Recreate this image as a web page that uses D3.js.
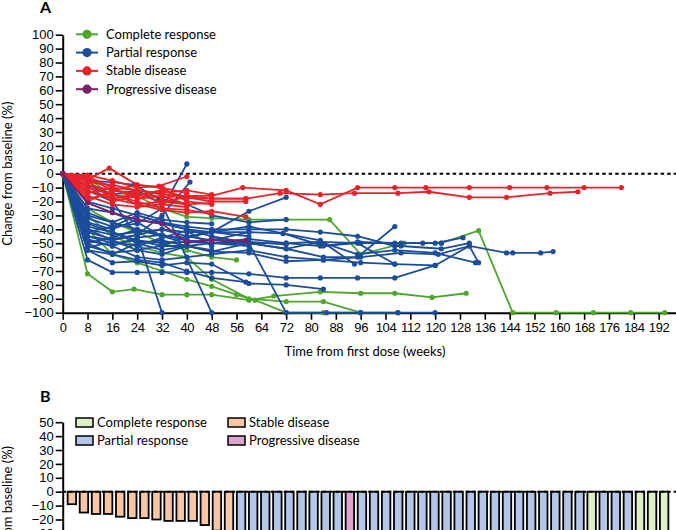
<!DOCTYPE html>
<html>
<head>
<meta charset="utf-8">
<script src="https://cdn.jsdelivr.net/npm/d3@7"></script>
<style>
  body { margin: 0; background: #fff; }
  svg { display: block; font-family: Lato, "Open Sans", sans-serif; }
</style>
</head>
<body>
<svg id="chart" width="676" height="530"></svg>
<script>
// panel A - one array of [week, % change] per patient, grouped by best response
const completeLines = [
  [[0,0],[8,-3],[16,-16],[23,-15],[32,-25],[40,-31],[48,-32],[60,-33],[72,-33],[86,-33],[96,-58],[110,-50],[122,-50],[134,-41],[145,-100],[159,-100],[171,-100],[183,-100],[194,-100]],
  [[0,0],[8,-72],[16,-85],[23,-83],[32,-87],[40,-87],[48,-87],[60,-91],[68,-88],[83,-85],[96,-86],[107,-86],[119,-89],[130,-86]],
  [[0,0],[8,-40],[16,-58],[24,-64],[32,-70],[40,-76],[48,-81],[56,-87],[62,-91],[72,-100],[84,-100],[96,-100]],
  [[0,0],[8,-30],[16,-45],[24,-52],[32,-57],[40,-60],[48,-76],[60,-90],[72,-92],[84,-92],[96,-100],[108,-100]],
  [[0,0],[8,-25],[16,-35],[24,-42],[32,-50],[40,-55],[48,-60],[56,-62]]
];
const partialLines = [
  [[0,0],[8,-32],[16,-38],[24,-36],[32,-25],[40,7]],
  [[0,0],[8,-40],[16,-48],[24,-44],[32,-30],[41,-6]],
  [[0,0],[8,-12],[16,-20],[24,-45],[32,-100]],
  [[0,0],[8,-8],[16,-15],[24,-12],[32,-22],[48,-100]],
  [[0,0],[8,-35],[16,-40],[24,-33],[32,-36],[40,-40],[48,-45],[60,-50],[72,-100],[85,-100],[96,-100],[108,-100],[120,-100]],
  [[0,0],[8,-30],[16,-35],[24,-40],[32,-45],[40,-46],[48,-42],[60,-27],[72,-17]],
  [[0,0],[8,-5],[16,-6],[23,-8],[31,-18],[40,-22],[48,-30],[60,-35],[72,-33]],
  [[0,0],[8,-62],[16,-71],[24,-71],[32,-71],[40,-71],[48,-71],[60,-72],[72,-75],[83,-75],[95,-75],[107,-75],[120,-66],[131,-52],[143,-57],[145,-57],[154,-57],[158,-56]],
  [[0,0],[8,-55],[16,-64],[24,-63],[32,-66],[40,-64],[48,-65],[60,-79],[72,-80],[84,-83]],
  [[0,0],[8,-50],[16,-58],[24,-62],[32,-64],[40,-70],[48,-75],[59,-78]],
  [[0,0],[8,-45],[16,-50],[24,-48],[32,-50],[40,-49],[48,-50],[60,-50],[72,-50],[83,-49],[96,-50],[107,-50],[116,-50],[120,-50],[129,-46]],
  [[0,0],[8,-40],[16,-44],[24,-42],[32,-40],[40,-45],[48,-48],[60,-42],[71,-43],[83,-48],[94,-65]],
  [[0,0],[8,-38],[16,-42],[24,-50],[32,-55],[40,-52],[48,-56],[60,-50],[72,-54],[84,-60],[95,-60],[107,-38]],
  [[0,0],[8,-48],[16,-52],[24,-46],[32,-44],[40,-48],[48,-50],[60,-47],[72,-50],[83,-52],[95,-50],[107,-65]],
  [[0,0],[8,-52],[16,-57],[24,-55],[32,-52],[40,-52],[48,-56],[60,-57],[72,-63],[84,-62],[96,-60],[109,-57],[121,-58],[131,-52],[134,-64]],
  [[0,0],[8,-42],[16,-38],[24,-30],[32,-35],[40,-40],[48,-42],[60,-38],[71,-43],[84,-52],[95,-49],[109,-50],[122,-50]],
  [[0,0],[8,-25],[16,-28],[24,-35],[32,-45],[40,-50],[48,-47],[60,-50],[72,-54],[83,-49],[95,-58],[107,-55],[120,-57],[133,-64]],
  [[0,0],[8,-55],[16,-58],[24,-50],[32,-48],[40,-52],[48,-50],[60,-52]],
  [[0,0],[8,-45],[16,-48],[24,-55],[32,-58],[40,-52],[48,-55]],
  [[0,0],[8,-36],[16,-42],[24,-48],[32,-52],[40,-45],[48,-42],[60,-45]],
  [[0,0],[8,-50],[16,-46],[24,-40],[32,-44],[40,-48],[48,-50],[60,-49],[72,-51]],
  [[0,0],[8,-28],[16,-35],[24,-28],[32,-33],[40,-35],[48,-36]],
  [[0,0],[8,-47],[16,-52],[24,-60],[32,-62],[40,-60],[48,-58],[60,-55],[72,-60],[84,-62],[96,-64],[107,-65],[120,-66]],
  [[0,0],[8,-20],[16,-25],[24,-30],[32,-35],[40,-38],[48,-40],[60,-40],[72,-40],[83,-42],[95,-45],[107,-52],[109,-52],[122,-54],[131,-50]],
  [[0,0],[8,-42],[16,-47],[24,-44],[32,-40],[40,-42],[48,-42],[60,-42]],
  [[0,0],[8,-53],[16,-49],[24,-52],[32,-46],[40,-41],[48,-52]]
];
const stableLines = [
  [[0,0],[8,-2],[16,-10],[24,-12],[32,-15],[40,-16],[48,-16],[58,-10],[72,-12],[83,-22],[95,-10],[107,-10],[117,-10],[131,-10],[144,-10],[156,-10],[168,-10],[180,-10]],
  [[0,0],[8,-8],[16,-12],[24,-15],[32,-12],[40,-17],[48,-18],[59,-18],[70,-14],[83,-15],[94,-14],[108,-14],[118,-13],[131,-17],[143,-17],[157,-14],[166,-13]],
  [[0,0],[8,-4],[15,4],[24,-8],[32,-10],[40,-20],[48,-22]],
  [[0,0],[8,-1],[16,-5],[24,-10],[31,-9],[40,-2]],
  [[0,0],[8,-20],[16,-12],[24,-14],[32,-17],[40,-16],[48,-18],[59,-18]],
  [[0,0],[8,-10],[16,-15],[24,-20],[32,-25],[40,-26],[48,-29]],
  [[0,0],[8,-12],[16,-18],[24,-22],[32,-26],[40,-28],[48,-27],[59,-31]],
  [[0,0],[8,-6],[16,-8],[24,-12],[32,-14],[40,-12],[48,-15]],
  [[0,0],[8,-14],[16,-10],[24,-18],[32,-16],[40,-22]],
  [[0,0],[8,-3],[16,-12],[24,-8],[32,-10],[40,-14]],
  [[0,0],[8,-5],[16,-18],[24,-15],[32,-20],[40,-17],[48,-20],[59,-20]],
  [[0,0],[8,-18],[16,-14],[24,-22],[32,-20],[40,-22],[48,-21]],
  [[0,0],[8,-9],[16,-20],[24,-16],[32,-12],[40,-18]],
  [[0,0],[8,-16],[16,-22],[24,-24],[32,-22],[40,-24]]
];
const progressiveLines = [
  [[0,0],[8,-21],[16,-28],[24,-33],[32,-36],[40,-49],[48,-48],[59,-48]]
];

// panel B - best change per patient (waterfall), and response of each bar
const barValues = [-9,-15,-16,-16,-18,-19,-19,-20,-21,-21,-21,-24,-28,-29,
  -32,-34,-35,-36,-38,-40,-42,-44,-46,-49,-50,-50,-51,-52,-54,-55,-57,-58,-60,-62,
  -63,-65,-66,-71,-75,-78,-83,-100,-100,-100,-100,-100,-100,-100,-100,-100];
const barGroups = [
  "SD","SD","SD","SD","SD","SD","SD","SD","SD","SD","SD","SD","SD","SD",
  "PR","PR","PR","PR","PR","PR","PR","PR","PR","PD","PR","PR","PR","PR","PR","PR",
  "PR","PR","PR","PR","PR","PR","PR","PR","PR","PR","PR","PR","PR","CR","PR","PR",
  "PR","CR","CR","CR"];

const xTicks = d3.range(0, 193, 8);
const yTicksA = d3.range(-100, 101, 10);
const yTicksB = d3.range(-100, 51, 10);

const lineColours = { CR: "#4ea62d", PR: "#1c4d9b", SD: "#e8222a", PD: "#7b1f6f" };
const barColours = { CR: "#dcf0c6", PR: "#b4c5ea", SD: "#f8c6a4", PD: "#dca7cf" };
const labels = { CR: "Complete response", PR: "Partial response", SD: "Stable disease", PD: "Progressive disease" };

const svg = d3.select("#chart");

//scales
const x = d3.scaleLinear().domain([0, 197.6]).range([62.7, 676]);
const yA = d3.scaleLinear().domain([-100, 100]).range([312.7, 34.7]);
const yB = d3.scaleLinear().domain([-100, 50]).range([630.7, 422.2]);

//---------- panel A
svg.append("text").attr("x", 40).attr("y", 13)
    .style("font-size", "16px").style("font-weight", "bold").text("A");

const axisA = svg.append("g");
const yAxisA = axisA.append("g")
    .attr("transform", "translate(62.7,0)")
    .call(d3.axisLeft(yA).tickValues(yTicksA).tickSize(7).tickSizeOuter(0));
const xAxisA = axisA.append("g")
    .attr("transform", "translate(0,312.7)")
    .call(d3.axisBottom(x).tickValues(xTicks).tickSize(7).tickSizeOuter(0));

[yAxisA, xAxisA].forEach(g => {
    g.select(".domain").attr("stroke-width", 2);
    g.selectAll(".tick line").attr("stroke-width", 1.6);
    g.selectAll(".tick text").style("font-size", "13px").attr("fill", "#000");
});
yAxisA.selectAll(".tick text").attr("x", -9);
xAxisA.selectAll(".tick text").attr("y", 10).attr("letter-spacing", "-0.4px");

svg.append("line")
    .attr("x1", x(0)).attr("x2", 676).attr("y1", yA(0)).attr("y2", yA(0))
    .attr("stroke", "#000").attr("stroke-width", 2).attr("stroke-dasharray", "3.5,3");

svg.append("text")
    .attr("transform", "translate(12," + yA(0) + ") rotate(-90)")
    .attr("text-anchor", "middle").style("font-size", "13px").text("Change from baseline (%)");
svg.append("text")
    .attr("x", 365).attr("y", 356)
    .attr("text-anchor", "middle").style("font-size", "13px").text("Time from first dose (weeks)");

const line = d3.line().x(d => x(d[0])).y(d => yA(d[1]));
const series = [
    ["CR", completeLines],
    ["PR", partialLines],
    ["SD", stableLines],
    ["PD", progressiveLines]
];
const linesG = svg.append("g");
series.forEach(([key, lines]) => {
    const g = linesG.append("g").attr("class", "grp-" + key);
    lines.forEach(pts => {
        g.append("path").datum(pts)
            .attr("d", line)
            .attr("fill", "none")
            .attr("stroke", lineColours[key])
            .attr("stroke-width", 1.8);
        g.selectAll(null).data(pts).enter().append("circle")
            .attr("cx", d => x(d[0])).attr("cy", d => yA(d[1]))
            .attr("r", 2.6).attr("fill", lineColours[key]);
    });
});

//legend A
const legA = svg.append("g");
["CR", "PR", "SD", "PD"].forEach((k, i) => {
    const gy = 34.3 + i * 18.3;
    const item = legA.append("g").attr("transform", "translate(0," + gy + ")");
    item.append("line").attr("x1", 76).attr("x2", 98).attr("y1", 0).attr("y2", 0)
        .attr("stroke", lineColours[k]).attr("stroke-width", 2);
    item.append("circle").attr("cx", 87).attr("cy", 0).attr("r", 4.6).attr("fill", lineColours[k]);
    item.append("text").attr("x", 106).attr("y", 0).attr("dy", "0.35em")
        .style("font-size", "13px").text(labels[k]);
});

//---------- panel B
svg.append("text").attr("x", 40).attr("y", 402)
    .style("font-size", "16px").style("font-weight", "bold").text("B");

const xB = d3.scaleBand().domain(d3.range(barValues.length)).range([64, 672]).paddingInner(0.3).paddingOuter(0.3);

const yAxisB = svg.append("g")
    .attr("transform", "translate(62.7,0)")
    .call(d3.axisLeft(yB).tickValues(yTicksB).tickSize(7).tickSizeOuter(0));
yAxisB.select(".domain").attr("stroke-width", 2);
yAxisB.selectAll(".tick line").attr("stroke-width", 1.6);
yAxisB.selectAll(".tick text").style("font-size", "13px").attr("fill", "#000").attr("x", -9);

svg.append("text")
    .attr("transform", "translate(12,518) rotate(-90)")
    .attr("text-anchor", "middle").style("font-size", "13px").text("Change from baseline (%)");

svg.append("g").selectAll("rect").data(barValues).enter().append("rect")
    .attr("x", (d, i) => xB(i))
    .attr("width", xB.bandwidth())
    .attr("y", yB(0))
    .attr("height", d => yB(d) - yB(0))
    .attr("fill", (d, i) => barColours[barGroups[i]])
    .attr("stroke", "#000").attr("stroke-width", 1.8);

svg.append("line")
    .attr("x1", x(0)).attr("x2", 676).attr("y1", yB(0)).attr("y2", yB(0))
    .attr("stroke", "#000").attr("stroke-width", 2).attr("stroke-dasharray", "3.5,3");

//legend B
const legB = svg.append("g");
[["CR", 76, 422.5], ["PR", 76, 440.5], ["SD", 228, 422.5], ["PD", 228, 440.5]].forEach(([k, lx, ly]) => {
    legB.append("rect").attr("x", lx).attr("y", ly - 4.5).attr("width", 17).attr("height", 9)
        .attr("fill", barColours[k]).attr("stroke", "#000").attr("stroke-width", 1.5);
    legB.append("text").attr("x", lx + 21).attr("y", ly).attr("dy", "0.35em")
        .style("font-size", "13px").text(labels[k]);
});
</script>
</body>
</html>
